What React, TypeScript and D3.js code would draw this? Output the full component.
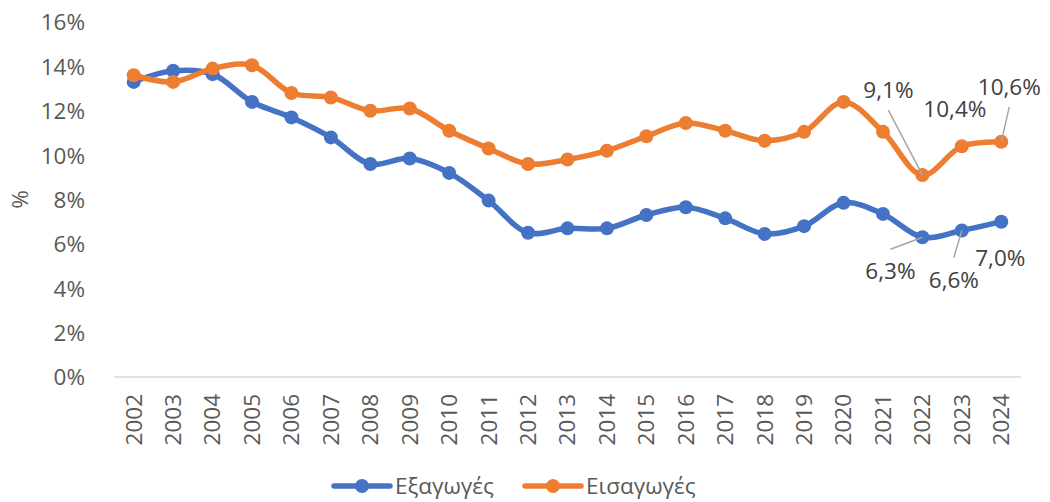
import { useEffect, useRef } from 'react';
import * as d3 from 'd3';

// years and shares (%)
const years = ['2002', '2003', '2004', '2005', '2006', '2007', '2008', '2009', '2010', '2011', '2012',
  '2013', '2014', '2015', '2016', '2017', '2018', '2019', '2020', '2021', '2022', '2023', '2024'];
const exportsPct = [13.3, 13.8, 13.65, 12.4, 11.7, 10.8, 9.6, 9.85, 9.2, 7.95, 6.5,
  6.7, 6.7, 7.3, 7.65, 7.15, 6.45, 6.8, 7.85, 7.35, 6.3, 6.6, 7.0];
const importsPct = [13.6, 13.3, 13.9, 14.05, 12.8, 12.6, 12.0, 12.1, 11.1, 10.3, 9.6,
  9.8, 10.2, 10.85, 11.45, 11.1, 10.65, 11.05, 12.4, 11.05, 9.1, 10.4, 10.6];
const yTicks = [0, 2, 4, 6, 8, 10, 12, 14, 16];
const seriesNames = ['Εξαγωγές', 'Εισαγωγές'];
const seriesColors = ['#4472c4', '#ed7d31'];

// data labels: series, year, label offset from point, leader line or not
const labels: { s: number; year: string; dx: number; dy: number; lead: boolean }[] = [
  { s: 1, year: '2022', dx: -34, dy: -77, lead: true },
  { s: 1, year: '2023', dx: -7, dy: -29, lead: false },
  { s: 1, year: '2024', dx: 8, dy: -47, lead: true },
  { s: 0, year: '2022', dx: -32, dy: 42, lead: true },
  { s: 0, year: '2023', dx: -8, dy: 57, lead: true },
  { s: 0, year: '2024', dx: -1, dy: 44, lead: false },
];

const fmt = (v: number) => v.toFixed(1).replace('.', ',') + '%';

const App = () => {
  const svgRef = useRef<SVGSVGElement | null>(null);

  useEffect(() => {
    if (!svgRef.current) return;
    const svg = d3.select(svgRef.current);
    svg.selectAll('*').remove();

    const width = 1050;
    const height = 502;
    const margin = { top: 22, right: 29, bottom: 125, left: 114 };
    const font = "'Open Sans', sans-serif";
    const fs = 22.5;

    const x = d3.scaleBand().domain(years).range([margin.left, width - margin.right]);
    const y = d3.scaleLinear().domain([0, 16]).range([height - margin.bottom, margin.top]);
    const cx = (yr: string) => (x(yr) as number) + x.bandwidth() / 2;

    // y axis labels
    const yAxis = svg.append('g')
      .attr('transform', `translate(${margin.left - 26},0)`)
      .call(d3.axisLeft(y).tickValues(yTicks).tickFormat(d => `${d}%`).tickSize(0));
    yAxis.select('.domain').remove();
    yAxis.selectAll('text')
      .attr('font-family', font).attr('font-size', fs).attr('fill', '#595959').attr('dy', '0.35em');

    // baseline
    svg.append('line')
      .attr('x1', margin.left).attr('x2', width - margin.right)
      .attr('y1', y(0)).attr('y2', y(0))
      .attr('stroke', '#d9d9d9').attr('stroke-width', 1.5);

    // x axis labels
    const xAxis = svg.append('g')
      .attr('transform', `translate(0,${y(0)})`)
      .call(d3.axisBottom(x).tickSize(0));
    xAxis.select('.domain').remove();
    xAxis.selectAll('text')
      .attr('font-family', font).attr('font-size', fs).attr('fill', '#595959')
      .attr('transform', 'rotate(-90)')
      .attr('text-anchor', 'end')
      .attr('x', -17).attr('y', 0).attr('dy', '0.35em');

    // y title
    svg.append('text')
      .attr('transform', `translate(20,${(y(0) + y(16)) / 2}) rotate(-90)`)
      .attr('text-anchor', 'middle').attr('dy', '0.35em')
      .attr('font-family', font).attr('font-size', fs).attr('fill', '#595959')
      .text('%');

    const series = [exportsPct, importsPct];
    const line = d3.line<number>()
      .x((_, i) => cx(years[i]))
      .y(d => y(d))
      .curve(d3.curveCatmullRom.alpha(0.5));

    series.forEach((vals, s) => {
      svg.append('path')
        .attr('d', line(vals))
        .attr('fill', 'none')
        .attr('stroke', seriesColors[s])
        .attr('stroke-width', 5.5)
        .attr('stroke-linecap', 'round');
      svg.append('g').selectAll('circle')
        .data(vals)
        .join('circle')
        .attr('cx', (_, i) => cx(years[i]))
        .attr('cy', d => y(d))
        .attr('r', 7)
        .attr('fill', seriesColors[s]);
    });

    // data labels with leader lines
    labels.forEach(l => {
      const i = years.indexOf(l.year);
      const v = series[l.s][i];
      const px = cx(l.year);
      const py = y(v);
      const tx = px + l.dx;
      const ty = py + l.dy;
      if (l.lead) {
        const ly = l.dy < 0 ? ty + 12 : ty - 30;
        svg.append('line')
          .attr('x1', tx).attr('y1', ly)
          .attr('x2', px).attr('y2', py)
          .attr('stroke', '#a6a6a6').attr('stroke-width', 1.5);
      }
      svg.append('text')
        .attr('x', tx).attr('y', ty)
        .attr('text-anchor', 'middle')
        .attr('font-family', font).attr('font-size', fs).attr('fill', '#404040')
        .text(fmt(v));
    });

    // legend
    const legendX = [334, 525];
    seriesNames.forEach((name, s) => {
      const g = svg.append('g').attr('transform', `translate(${legendX[s]},486)`);
      g.append('line').attr('x1', 0).attr('x2', 56).attr('y1', 0).attr('y2', 0)
        .attr('stroke', seriesColors[s]).attr('stroke-width', 5.5).attr('stroke-linecap', 'round');
      g.append('circle').attr('cx', 28).attr('cy', 0).attr('r', 7).attr('fill', seriesColors[s]);
      g.append('text').attr('x', 61).attr('y', 0).attr('dy', '0.35em')
        .attr('font-family', font).attr('font-size', fs).attr('fill', '#595959')
        .text(name);
    });
  }, []);

  return (
    <svg ref={svgRef} width={1050} height={502} style={{ position: 'absolute', left: 0, top: 0 }} />
  );
};

export default App;
